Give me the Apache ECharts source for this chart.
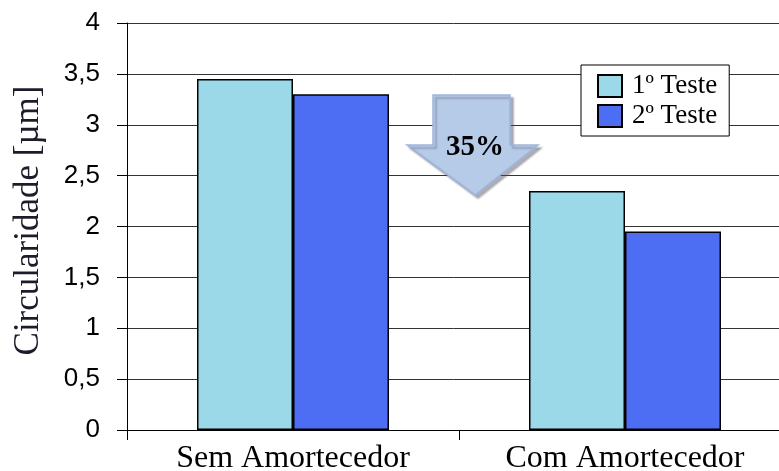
<!DOCTYPE html>
<html>
<head>
<meta charset="utf-8">
<script src="https://cdn.jsdelivr.net/npm/echarts@6/dist/echarts.min.js"></script>
<style>html,body{margin:0;padding:0;background:#fff}#c{width:779px;height:471px}</style>
</head>
<body>
<div id="c"></div>
<script>
const categories = ['Sem Amortecedor', 'Com Amortecedor'];
const seriesNames = ['1º Teste', '2º Teste'];
const teste1 = [3.45, 2.35];
const teste2 = [3.30, 1.95];
const reductionLabel = '35%';

const chart = echarts.init(document.getElementById('c'), null, {renderer: 'canvas'});
const serif = '"Liberation Serif", "Times New Roman", serif';
const sans = '"Liberation Sans", Arial, sans-serif';

chart.setOption({
  animation: false,
  backgroundColor: '#fff',
  grid: {left: 127, top: 23, width: 664, height: 407, containLabel: false, outerBoundsMode: 'none'},
  legend: {
    orient: 'vertical',
    left: 581, top: 65,
    padding: [7, 12, 6, 16],
    backgroundColor: '#fff',
    borderColor: '#000',
    borderWidth: 1,
    icon: 'rect',
    itemWidth: 24, itemHeight: 22, itemGap: 2,
    textStyle: {fontFamily: serif, fontSize: 27, lineHeight: 28, color: '#000', padding: [0, 0, 0, 5]},
    data: seriesNames
  },
  xAxis: {
    type: 'category',
    data: categories,
    axisLine: {lineStyle: {color: '#000', width: 1}},
    axisTick: {show: true, length: 10, lineStyle: {color: '#000'}},
    axisLabel: {fontFamily: serif, fontSize: 32, color: '#000', margin: 13}
  },
  yAxis: {
    type: 'value',
    min: 0, max: 4, interval: 0.5,
    name: 'Circularidade [µm]',
    nameLocation: 'middle',
    nameGap: 81,
    nameTextStyle: {fontFamily: serif, fontSize: 35, color: '#1c1c2a', padding: [0, 0, 0, 12]},
    axisLine: {show: true, lineStyle: {color: '#000', width: 1}},
    axisTick: {show: true, length: 10, lineStyle: {color: '#000'}},
    axisLabel: {fontFamily: sans, fontSize: 26, color: '#000', margin: 27,
      formatter: v => String(v).replace('.', ',')},
    splitLine: {show: true, lineStyle: {color: '#333', width: 1}}
  },
  series: [
    {name: seriesNames[0], type: 'bar', data: teste1, barWidth: 96, barGap: '0%',
      itemStyle: {color: '#9BD9E8', borderColor: '#000', borderWidth: 1.5}},
    {name: seriesNames[1], type: 'bar', data: teste2, barWidth: 96, barGap: '0%',
      itemStyle: {color: '#4D6EF2', borderColor: '#000', borderWidth: 1.5}}
  ],
  graphic: [
    {
      type: 'polygon',
      shape: {points: [[433, 95], [510, 95], [510, 145], [538, 145], [475, 195], [407, 145], [433, 145]]},
      style: {fill: '#B6CBE8', stroke: '#9DB5DA', lineWidth: 1.5,
        shadowColor: 'rgba(80,80,100,0.45)', shadowOffsetX: 3, shadowOffsetY: 3, shadowBlur: 2},
      z: 10
    },
    {
      type: 'text',
      x: 475, y: 148,
      style: {text: reductionLabel, fontFamily: serif, fontWeight: 'bold', fontSize: 29,
        fill: '#000', align: 'center', verticalAlign: 'middle'},
      z: 11
    }
  ]
});
</script>
</body>
</html>
